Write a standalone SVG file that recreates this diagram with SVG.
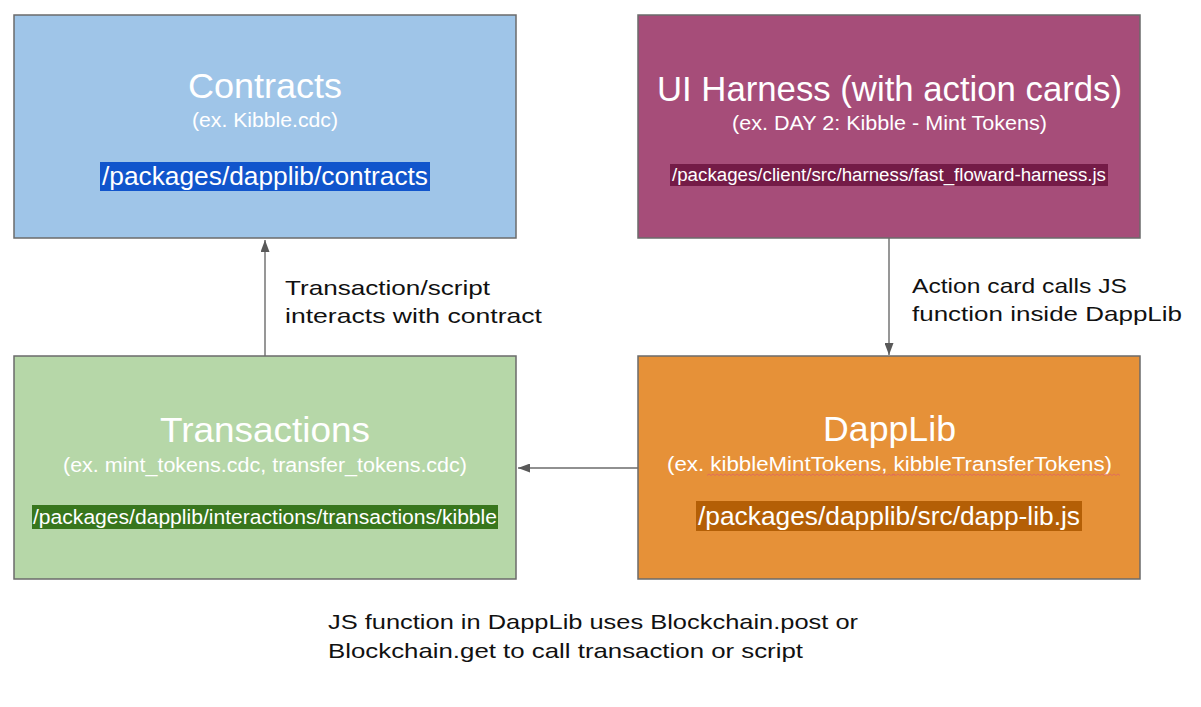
<svg xmlns="http://www.w3.org/2000/svg" width="1201" height="707" viewBox="0 0 1201 707">
<style>
.box{stroke:#6b6b6b;stroke-width:1.5}
.t{font-family:"Liberation Sans",Arial,sans-serif;fill:#ffffff;text-anchor:middle}
.title{font-size:35px}
.sub{font-size:20px}
.lbl{font-family:"Liberation Sans",Arial,sans-serif;fill:#111111;font-size:21px}
.conn{stroke:#6b6b6b;stroke-width:1.4;fill:none}
.sq{stroke:#e06666;stroke-width:0.8;fill:none}
</style>
<defs>
<marker id="arr" markerUnits="userSpaceOnUse" markerWidth="12" markerHeight="9" refX="12" refY="4.5" orient="auto">
<path d="M0,0 L12,4.5 L0,9 z" fill="#595959"/>
</marker>
</defs>
<rect width="1201" height="707" fill="#ffffff"/>

<g id="contracts">
<rect class="box" x="14" y="15" width="502" height="223" fill="#9fc5e8"/>
<text class="t title" x="265" y="98" textLength="154" lengthAdjust="spacingAndGlyphs">Contracts</text>
<text class="t sub" x="265" y="127" textLength="146" lengthAdjust="spacingAndGlyphs">(ex. Kibble.cdc)</text>
<rect x="100" y="162" width="330" height="29" fill="#1155cc"/>
<text class="t" x="265" y="185" font-size="25" textLength="326" lengthAdjust="spacingAndGlyphs">/packages/dapplib/contracts</text>
</g>

<g id="ui-harness">
<rect class="box" x="638" y="15" width="502" height="223" fill="#a64d79"/>
<text class="t title" x="889.5" y="101" textLength="465" lengthAdjust="spacingAndGlyphs">UI Harness (with action cards)</text>
<text class="t sub" x="889.5" y="130" textLength="315" lengthAdjust="spacingAndGlyphs">(ex. DAY 2: Kibble - Mint Tokens)</text>
<rect x="670" y="164" width="438" height="22" fill="#741b47"/>
<text class="t" x="889" y="181" font-size="18" textLength="434" lengthAdjust="spacingAndGlyphs">/packages/client/src/harness/fast_floward-harness.js</text>
</g>

<g id="transactions">
<rect class="box" x="14" y="356" width="502" height="223" fill="#b6d7a8"/>
<text class="t title" x="265" y="442" textLength="210" lengthAdjust="spacingAndGlyphs">Transactions</text>
<text class="t sub" x="265" y="472" textLength="404" lengthAdjust="spacingAndGlyphs">(ex. mint_tokens.cdc, transfer_tokens.cdc)</text>
<rect x="32" y="505" width="466" height="24" fill="#38761d"/>
<text class="t" x="265" y="524" font-size="20" textLength="464" lengthAdjust="spacingAndGlyphs">/packages/dapplib/interactions/transactions/kibble</text>
</g>

<g id="dapplib">
<rect class="box" x="638" y="356" width="502" height="223" fill="#e69138"/>
<text class="t title" x="889.5" y="441" textLength="133" lengthAdjust="spacingAndGlyphs">DappLib</text>
<text class="t sub" x="889.5" y="471" textLength="445" lengthAdjust="spacingAndGlyphs">(ex. kibbleMintTokens, kibbleTransferTokens)</text>
<path class="sq" d="M707,475.5 l2,-1.5 l2,1.5 l2,-1.5 l2,1.5 l2,-1.5 l2,1.5 l2,-1.5 l2,1.5 l2,-1.5 l2,1.5 l2,-1.5 l2,1.5 l2,-1.5 l2,1.5 l2,-1.5 l2,1.5 l2,-1.5 l2,1.5 l2,-1.5 l2,1.5 l2,-1.5 l2,1.5 l2,-1.5 l2,1.5 l2,-1.5 l2,1.5 l2,-1.5 l2,1.5 l2,-1.5 l2,1.5 l2,-1.5 l2,1.5 l2,-1.5 l2,1.5 l2,-1.5 l2,1.5 l2,-1.5 l2,1.5 l2,-1.5 l2,1.5 l2,-1.5 l2,1.5 l2,-1.5 l2,1.5 l2,-1.5 l2,1.5 l2,-1.5 l2,1.5 l2,-1.5 l2,1.5 l2,-1.5 l2,1.5 l2,-1.5 l2,1.5 l2,-1.5 l2,1.5 l2,-1.5 l2,1.5 l2,-1.5 l2,1.5 l2,-1.5 l2,1.5 l2,-1.5 l2,1.5 l2,-1.5 l2,1.5 l2,-1.5 l2,1.5 l2,-1.5 l2,1.5 l2,-1.5 l2,1.5 l2,-1.5 l2,1.5 l2,-1.5 l2,1.5 l2,-1.5 l2,1.5 l2,-1.5 l2,1.5 l2,-1.5 l2,1.5 l2,-1.5 l2,1.5 l2,-1.5 l2,1.5 l2,-1.5 l2,1.5 l2,-1.5 l2,1.5 l2,-1.5 l2,1.5 l2,-1.5 l2,1.5"/>
<path class="sq" d="M892,475.5 l2,-1.5 l2,1.5 l2,-1.5 l2,1.5 l2,-1.5 l2,1.5 l2,-1.5 l2,1.5 l2,-1.5 l2,1.5 l2,-1.5 l2,1.5 l2,-1.5 l2,1.5 l2,-1.5 l2,1.5 l2,-1.5 l2,1.5 l2,-1.5 l2,1.5 l2,-1.5 l2,1.5 l2,-1.5 l2,1.5 l2,-1.5 l2,1.5 l2,-1.5 l2,1.5 l2,-1.5 l2,1.5 l2,-1.5 l2,1.5 l2,-1.5 l2,1.5 l2,-1.5 l2,1.5 l2,-1.5 l2,1.5 l2,-1.5 l2,1.5 l2,-1.5 l2,1.5 l2,-1.5 l2,1.5 l2,-1.5 l2,1.5 l2,-1.5 l2,1.5 l2,-1.5 l2,1.5 l2,-1.5 l2,1.5 l2,-1.5 l2,1.5 l2,-1.5 l2,1.5 l2,-1.5 l2,1.5 l2,-1.5 l2,1.5 l2,-1.5 l2,1.5 l2,-1.5 l2,1.5 l2,-1.5 l2,1.5 l2,-1.5 l2,1.5 l2,-1.5 l2,1.5 l2,-1.5 l2,1.5 l2,-1.5 l2,1.5 l2,-1.5 l2,1.5 l2,-1.5 l2,1.5 l2,-1.5 l2,1.5 l2,-1.5 l2,1.5 l2,-1.5 l2,1.5 l2,-1.5 l2,1.5 l2,-1.5 l2,1.5 l2,-1.5 l2,1.5 l2,-1.5 l2,1.5 l2,-1.5 l2,1.5 l2,-1.5 l2,1.5 l2,-1.5 l2,1.5 l2,-1.5 l2,1.5 l2,-1.5 l2,1.5 l2,-1.5 l2,1.5 l2,-1.5 l2,1.5 l2,-1.5 l2,1.5 l2,-1.5 l2,1.5 l2,-1.5 l2,1.5 l2,-1.5 l2,1.5"/>
<rect x="696" y="501" width="386" height="30" fill="#b45f06"/>
<text class="t" x="889" y="525" font-size="25" textLength="382" lengthAdjust="spacingAndGlyphs">/packages/dapplib/src/dapp-lib.js</text>
</g>

<g id="connectors">
<line class="conn" x1="265" y1="356" x2="265" y2="240" marker-end="url(#arr)"/>
<line class="conn" x1="889" y1="238" x2="889" y2="355" marker-end="url(#arr)"/>
<line class="conn" x1="638" y1="468" x2="518" y2="468" marker-end="url(#arr)"/>
</g>

<g id="labels">
<text class="lbl" x="285" y="295" textLength="205" lengthAdjust="spacingAndGlyphs">Transaction/script</text>
<text class="lbl" x="285" y="323" textLength="257" lengthAdjust="spacingAndGlyphs">interacts with contract</text>
<text class="lbl" x="912" y="293" textLength="215" lengthAdjust="spacingAndGlyphs">Action card calls JS</text>
<text class="lbl" x="912" y="321" textLength="270" lengthAdjust="spacingAndGlyphs">function inside DappLib</text>
<text class="lbl" x="328" y="629" textLength="530" lengthAdjust="spacingAndGlyphs">JS function in DappLib uses Blockchain.post or</text>
<text class="lbl" x="328" y="658" textLength="475" lengthAdjust="spacingAndGlyphs">Blockchain.get to call transaction or script</text>
</g>
</svg>
